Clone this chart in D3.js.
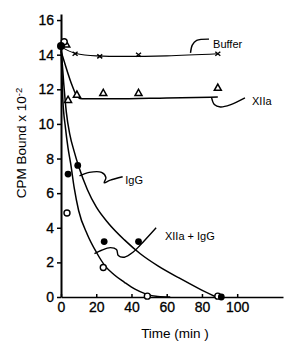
<!DOCTYPE html>
<html>
<head>
<meta charset="utf-8">
<script src="https://cdn.jsdelivr.net/npm/d3@7"></script>
<style>
  body { margin: 0; background: #fff; }
  svg { display: block; font-family: "Liberation Sans", Arial, sans-serif; }
</style>
</head>
<body>
<svg id="chart"></svg>
<script>
const width = 290, height = 343;

// tick labels
const timeTicks = [0, 20, 40, 60, 80, 100];
const cpmTicks = [0, 2, 4, 6, 8, 10, 12, 14, 16];

// measured points [time (min), CPM bound x 10^-2]
const bufferPts = [[8, 14.05], [22, 13.9], [44, 14.0], [89, 14.05]];
const xiiaPts = [[3, 14.6], [4, 11.4], [9, 11.7], [24, 11.8], [44, 11.8], [89, 12.1]];
const iggPts = [[0, 14.5], [4, 7.1], [9.5, 7.6], [24.5, 3.2], [44, 3.2], [91, 0]];
const xiiaIggPts = [[1.8, 14.75], [3.4, 4.85], [24, 1.7], [49, 0.05], [89, 0.05]];

// fitted curves
const bufferFit = [[0, 14.45], [8, 14.08], [20, 13.93], [35, 13.9], [60, 13.93], [89, 14.05]];
const xiiaFit = [[0, 14.2], [2, 13.55], [4, 12.9], [6, 12.3], [8, 11.8], [9.5, 11.55], [12, 11.45], [30, 11.45], [60, 11.5], [89, 11.55]];
const iggFit = [[0, 14.5], [1.5, 12.4], [3, 10.7], [5, 9.4], [7.5, 8.4], [10, 7.55], [15, 6.2], [20, 5.2], [27, 4.25], [36, 3.3], [45, 2.5], [55, 1.8], [67, 1.1], [78, 0.5], [88, 0]];
const xiiaIggFit = [[0, 14.5], [1, 11.5], [2.5, 9.8], [4, 8.6], [5.5, 7.7], [7.5, 6.3], [10, 5.0], [15, 3.6], [20, 2.6], [25, 1.8], [30, 1.3], [36, 0.85], [42, 0.45], [48, 0.18], [55, 0.03], [62, 0]];

// curve labels and their leader lines (data units)
const labels = [
  { text: "Buffer", at: [86.3, 14.6], leader: [[73.5, 14.1], [74.5, 14.55], [77, 14.82], [84, 14.9]] },
  { text: "XIIa", at: [108.4, 11.3], leader: [[85.5, 11.5], [87, 11.12], [90.5, 10.98], [96, 11.1], [104.4, 11.5]] },
  { text: "IgG", at: [36.5, 6.75], leader: [[10.5, 7.0], [16, 7.2], [23, 7.2], [25.5, 6.9], [24.5, 6.6], [28, 6.75], [35, 6.95]] },
  { text: "XIIa + IgG", at: [59, 3.5], leader: [[54, 4.0], [45, 3.0], [41, 2.6], [36, 2.3], [32.5, 2.4], [31.5, 2.75], [28, 2.85], [23, 2.7], [19, 2.5]] }
];

const svg = d3.select("#chart")
  .attr("width", width)
  .attr("height", height);

const x = d3.scaleLinear().domain([0, 126]).range([61, 283]);
const y = d3.scaleLinear().domain([0, 16.35]).range([297, 14]);

// axes
const xAxis = svg.append("g")
  .attr("transform", `translate(0,${y(0)})`)
  .call(d3.axisBottom(x).tickValues(timeTicks).tickSize(-3).tickPadding(5).tickSizeOuter(0));
const yAxis = svg.append("g")
  .attr("transform", `translate(${x(0)},0)`)
  .call(d3.axisLeft(y).tickValues(cpmTicks).tickSize(4).tickPadding(3).tickSizeOuter(0));

[xAxis, yAxis].forEach(g => {
  g.select(".domain").attr("stroke", "#000").attr("stroke-width", 1.6);
  g.selectAll(".tick line").attr("stroke", "#000").attr("stroke-width", 1.5);
  g.selectAll(".tick text")
    .attr("fill", "#000")
    .attr("stroke", "#000")
    .attr("stroke-width", 0.3)
    .style("font-size", "14px")
    .style("font-family", "'Liberation Sans', Arial, sans-serif");
});
yAxis.select(".domain").attr("stroke-width", 2);

// axis titles
svg.append("text")
  .attr("x", 175)
  .attr("y", 338)
  .attr("text-anchor", "middle")
  .style("font-size", "13.5px")
  .text("Time (min )");

const yTitle = svg.append("text")
  .attr("transform", "translate(26,143) rotate(-90)")
  .attr("text-anchor", "middle")
  .style("font-size", "13.5px");
yTitle.append("tspan").text("CPM Bound x 10");
yTitle.append("tspan").attr("dy", "-0.45em").style("font-size", "9.5px").text("-2");

// fitted curves
const fitLine = d3.line()
  .x(d => x(d[0]))
  .y(d => y(d[1]))
  .curve(d3.curveMonotoneX);

[bufferFit, xiiaFit, iggFit, xiiaIggFit].forEach((fit, i) => {
  svg.append("path")
    .datum(fit)
    .attr("fill", "none")
    .attr("stroke", "#000")
    .attr("stroke-width", i === 0 ? 1.1 : 1.5)
    .attr("d", fitLine);
});

// leaders and labels
const leaderLine = d3.line()
  .x(d => x(d[0]))
  .y(d => y(d[1]))
  .curve(d3.curveCatmullRom);

labels.forEach(l => {
  svg.append("path")
    .datum(l.leader)
    .attr("fill", "none")
    .attr("stroke", "#000")
    .attr("stroke-width", 1.4)
    .attr("d", leaderLine);
  svg.append("text")
    .attr("x", x(l.at[0]))
    .attr("y", y(l.at[1]))
    .attr("dy", "0.35em")
    .style("font-size", "11px")
    .text(l.text);
});

// markers
svg.selectAll(".buffer")
  .data(bufferPts)
  .enter().append("path")
  .attr("class", "buffer")
  .attr("transform", d => `translate(${x(d[0])},${y(d[1])})`)
  .attr("d", "M-2.5,-2L2.5,2M-2.5,2L2.5,-2")
  .attr("stroke", "#000")
  .attr("stroke-width", 1.4);

svg.selectAll(".xiia")
  .data(xiiaPts)
  .enter().append("path")
  .attr("class", "xiia")
  .attr("transform", d => `translate(${x(d[0])},${y(d[1])})`)
  .attr("d", "M0,-3.5L3.5,2.8L-3.5,2.8Z")
  .attr("fill", "#fff")
  .attr("stroke", "#000")
  .attr("stroke-width", 1.5);

svg.selectAll(".xiiaigg")
  .data(xiiaIggPts)
  .enter().append("circle")
  .attr("class", "xiiaigg")
  .attr("cx", d => x(d[0]))
  .attr("cy", d => y(d[1]))
  .attr("r", 3)
  .attr("fill", "#fff")
  .attr("stroke", "#000")
  .attr("stroke-width", 1.4);

svg.selectAll(".igg")
  .data(iggPts)
  .enter().append("circle")
  .attr("class", "igg")
  .attr("cx", d => x(d[0]))
  .attr("cy", d => y(d[1]))
  .attr("r", (d, i) => i === 0 ? 4 : 3.4)
  .attr("fill", "#000");
</script>
</body>
</html>
